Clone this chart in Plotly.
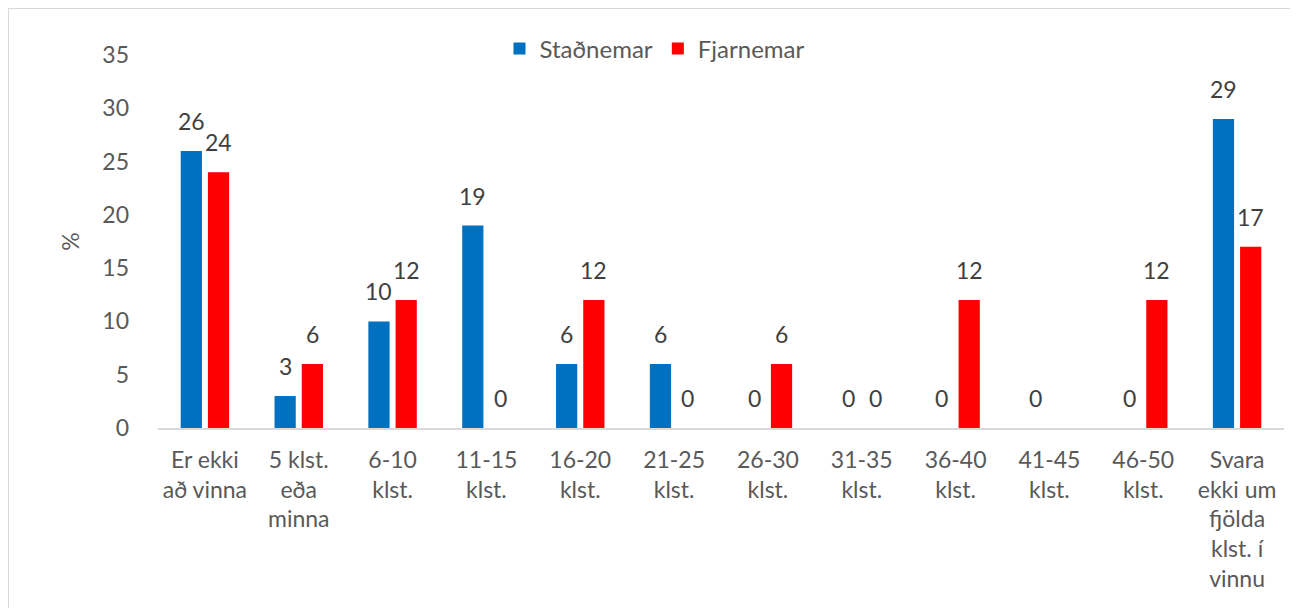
import plotly.graph_objects as go

categories = [
    "Er ekki<br>að vinna",
    "5 klst.<br>eða<br>minna",
    "6-10<br>klst.",
    "11-15<br>klst.",
    "16-20<br>klst.",
    "21-25<br>klst.",
    "26-30<br>klst.",
    "31-35<br>klst.",
    "36-40<br>klst.",
    "41-45<br>klst.",
    "46-50<br>klst.",
    "Svara<br>ekki um<br>fjölda<br>klst. í<br>vinnu",
]
stadnemar = [26, 3, 10, 19, 6, 6, 0, 0, 0, 0, 0, 29]
fjarnemar = [24, 6, 12, 0, 12, 0, 6, 0, 12, None, 12, 17]
y_ticks = [0, 5, 10, 15, 20, 25, 30, 35]

# page body adds an 8px offset, so the figure is 8px smaller than the window
W, H = 1290, 600
ML, MR, MT, MB = 150, 14, 47, 180
FONT = "Lato"
BARGAP, GROUPGAP = 0.42, 0.22

pw = W - ML - MR
ph = H - MT - MB
cat_w = pw / len(categories)
slot = cat_w * (1 - BARGAP) / 2

fig = go.Figure()
fig.add_trace(go.Bar(name="Staðnemar", x=categories, y=stadnemar, marker_color="#0070C0",
                     marker_line_width=0))
fig.add_trace(go.Bar(name="Fjarnemar", x=categories, y=fjarnemar, marker_color="#FF0000",
                     marker_line_width=0))

annotations = []
for vals, sign in ((stadnemar, -1), (fjarnemar, 1)):
    for c, v in zip(categories, vals):
        if v is None:
            continue
        annotations.append(dict(
            x=c, y=v, xref="x", yref="y", text=str(v), showarrow=False,
            xanchor="center", yanchor="bottom", xshift=sign * slot / 2, yshift=14,
            font=dict(size=23, color="#404040", family=FONT),
        ))

fig.add_shape(type="rect", xref="paper", yref="paper",
              x0=(0 - ML) / pw, x1=(1284 - ML) / pw,
              y0=-2, y1=(H - MB) / ph,
              line=dict(color="#D9D9D9", width=2), fillcolor="rgba(0,0,0,0)", layer="below")

fig.update_layout(
    width=W, height=H,
    margin=dict(l=ML, r=MR, t=MT, b=MB, autoexpand=False),
    paper_bgcolor="white", plot_bgcolor="white",
    barmode="group", bargap=BARGAP, bargroupgap=GROUPGAP,
    annotations=annotations,
    font=dict(family=FONT, size=23, color="#595959"),
    legend=dict(orientation="h", x=(647 - ML) / pw, xanchor="center",
                y=(H - MB - 41) / ph, yanchor="middle",
                font=dict(size=24, color="#595959", family=FONT),
                traceorder="normal"),
    xaxis=dict(showline=True, linecolor="#D9D9D9", linewidth=2, ticks="",
               ticklabelstandoff=10,
               tickfont=dict(size=23, color="#595959", family=FONT), showgrid=False),
    yaxis=dict(range=[0, 35], tickvals=y_ticks, showgrid=False, zeroline=False,
               showline=False, ticks="", ticklabelstandoff=28,
               tickfont=dict(size=23, color="#595959", family=FONT),
               title=dict(text="%", font=dict(size=23, color="#595959", family=FONT), standoff=16)),
)

fig.write_html("out.html")
